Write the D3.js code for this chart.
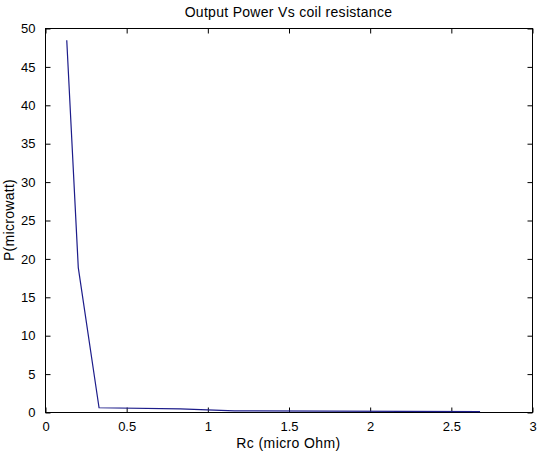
<!DOCTYPE html>
<html>
<head>
<meta charset="utf-8">
<script src="https://cdn.jsdelivr.net/npm/d3@7"></script>
<style>
  body { margin: 0; background: #fff; }
  text { font-family: "Liberation Sans", Arial, sans-serif; fill: #000; }
</style>
</head>
<body>
<div id="chart"></div>
<script>
// data
var rc = [0.134, 0.205, 0.333, 0.833, 1.167, 2.68];
var power = [48.4, 18.8, 0.55, 0.4, 0.15, 0.06];
var xTicks = [0, 0.5, 1, 1.5, 2, 2.5, 3];
var yTicks = [0, 5, 10, 15, 20, 25, 30, 35, 40, 45, 50];

(function() {
    var width = 543, height = 458;
    var left = 45, right = 532, top = 28, bottom = 412;

    var svg = d3.select("#chart")
    .append("svg")
    .attr("width", width)
    .attr("height", height);

    const xScale = d3.scaleLinear().domain([0, 3]).range([left, right]);
    const yScale = d3.scaleLinear().domain([0, 50]).range([bottom, top]);

    // box
    svg.append("rect")
    .attr("x", left + 0.5)
    .attr("y", top + 0.5)
    .attr("width", right - left)
    .attr("height", bottom - top)
    .attr("fill", "#fff")
    .attr("stroke", "#000");

    // axes with inward ticks (matlab style)
    const tick = 5;
    svg.append("g")
    .attr("transform", `translate(0.5, ${bottom + 0.5})`)
    .call(d3.axisBottom(xScale).tickValues(xTicks).tickSize(-tick).tickPadding(9).tickFormat(d3.format("")))
    .call(g => g.select(".domain").remove())
    .attr("font-size", 13);

    svg.append("g")
    .attr("transform", `translate(0.5, ${top + 0.5})`)
    .call(d3.axisTop(xScale).tickValues(xTicks).tickSize(-tick).tickFormat(""))
    .call(g => g.select(".domain").remove());

    svg.append("g")
    .attr("transform", `translate(${left + 0.5}, 0.5)`)
    .call(d3.axisLeft(yScale).tickValues(yTicks).tickSize(-tick).tickPadding(10))
    .call(g => g.select(".domain").remove())
    .attr("font-size", 13);

    svg.append("g")
    .attr("transform", `translate(${right + 0.5}, 0.5)`)
    .call(d3.axisRight(yScale).tickValues(yTicks).tickSize(-tick).tickFormat(""))
    .call(g => g.select(".domain").remove());

    svg.selectAll(".tick text").attr("fill", "#000");

    // curve
    const line = d3.line()
    .x((d, i) => xScale(rc[i]))
    .y(d => yScale(d));

    svg.append("path")
    .datum(power)
    .attr("d", line)
    .attr("fill", "none")
    .attr("stroke", "#1c1c8a")
    .attr("stroke-width", 1.2);

    // labels
    svg.append("text")
    .attr("x", (left + right) / 2)
    .attr("y", 17)
    .attr("text-anchor", "middle")
    .attr("font-size", 14)
    .attr("letter-spacing", 0.3)
    .text("Output Power Vs coil resistance");

    svg.append("text")
    .attr("x", (left + right) / 2)
    .attr("y", 448)
    .attr("text-anchor", "middle")
    .attr("font-size", 14)
    .attr("letter-spacing", 0.4)
    .text("Rc (micro Ohm)");

    svg.append("text")
    .attr("x", -(top + bottom) / 2)
    .attr("y", 14)
    .attr("transform", "rotate(-90)")
    .attr("text-anchor", "middle")
    .attr("font-size", 14)
    .attr("letter-spacing", 0.3)
    .text("P(microwatt)");
})();
</script>
</body>
</html>
